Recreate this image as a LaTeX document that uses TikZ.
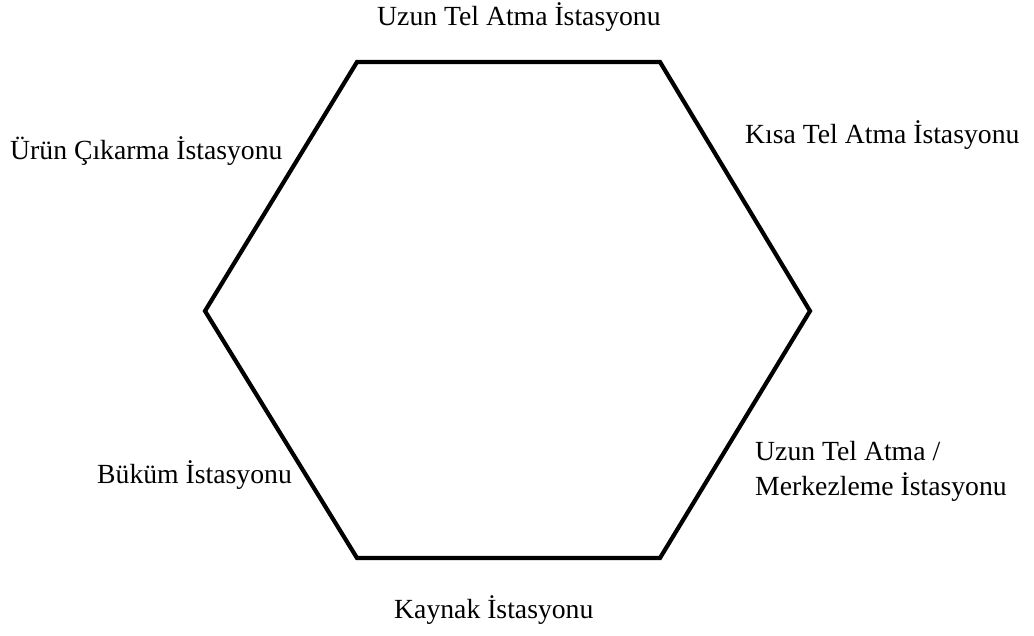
\documentclass[tikz,border=0pt]{standalone}
\usepackage{fontspec}
\setmainfont{Liberation Serif}
\begin{document}
\begin{tikzpicture}[x=1pt,y=-1pt,
  lbl/.style={anchor=base west,inner sep=0pt,font=\fontsize{27.7}{36}\selectfont},
  hexline/.style={line width=4.2pt,line join=miter}]
\useasboundingbox (0,0) rectangle (1034,635);
\coordinate (tl) at (357,62);
\coordinate (tr) at (660,62);
\coordinate (r) at (810,311);
\coordinate (br) at (660,558);
\coordinate (bl) at (357,558);
\coordinate (l) at (205,311);
\draw[hexline] (tl) -- (tr) -- (r) -- (br) -- (bl) -- (l) -- cycle;
\node[lbl] (uzun) at (377,25) {Uzun Tel Atma İstasyonu};
\node[lbl] (kisa) at (745,143) {Kısa Tel Atma İstasyonu};
\node[lbl] (urun) at (10,159) {Ürün Çıkarma İstasyonu};
\node[lbl] (merk1) at (755,460) {Uzun Tel Atma /};
\node[lbl] (merk2) at (755,495) {Merkezleme İstasyonu};
\node[lbl] (bukum) at (97,483) {Büküm İstasyonu};
\node[lbl] (kaynak) at (394,618) {Kaynak İstasyonu};
\end{tikzpicture}
\end{document}
